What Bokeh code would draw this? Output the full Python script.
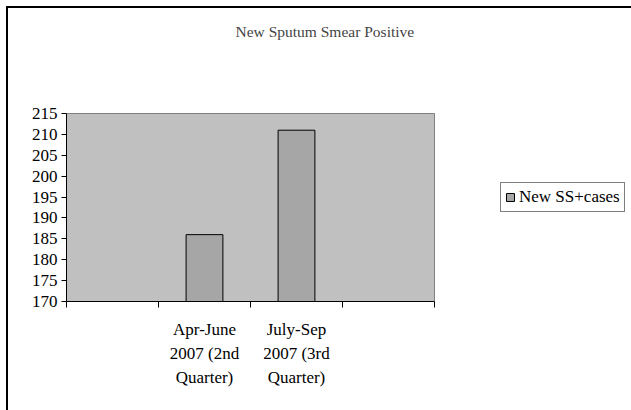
from bokeh.plotting import figure
from bokeh.models import Range1d, FixedTicker, Legend, LegendItem, LinearAxis
from bokeh.embed import file_html
from bokeh.resources import INLINE

title_text = "New Sputum Smear Positive"
categories = ["", "Apr-June\n2007 (2nd\nQuarter)", "July-Sep\n2007 (3rd\nQuarter)", ""]
values = [None, 186, 211, None]
series_name = "New SS+cases"
y_ticks = [170, 175, 180, 185, 190, 195, 200, 205, 210, 215]

FONT = "Liberation Serif"
FS = "17px"

n = len(categories)
xs = [i + 0.5 for i, v in enumerate(values) if v is not None]
tops = [v for v in values if v is not None]

# plot area is 368x188 px; the frame is widened to host the legend on the right
AREA_W, AREA_H = 368, 188
FRAME_W, FRAME_H = 561, 189
x_end = n * FRAME_W / AREA_W
y_end = y_ticks[-1] + (y_ticks[-1] - y_ticks[0]) * (FRAME_H - AREA_H) / AREA_H

p = figure(frame_width=FRAME_W, frame_height=FRAME_H, output_backend="svg",
           toolbar_location=None,
           x_range=Range1d(0, x_end), y_range=Range1d(y_ticks[0], y_end),
           min_border_left=58, min_border_right=4, min_border_top=104,
           min_border_bottom=109,
           styles={"margin-left": "6px", "margin-top": "6px",
                   "border-top": "2px solid black", "border-left": "2px solid black"})

p.title.text = title_text
p.title.text_font = FONT
p.title.text_font_size = "15.5px"
p.title.text_font_style = "normal"
p.title.align = "left"
p.title.vertical_align = "top"
p.title.offset = 169
p.title.standoff = 10

p.background_fill_color = "white"
p.border_fill_color = "white"
p.outline_line_color = None
p.xgrid.visible = False
p.ygrid.visible = False

# gray plot area spanning the category range and value axis range
p.quad(left=[0], right=[n], bottom=[y_ticks[0]], top=[y_ticks[-1]],
       fill_color="#C0C0C0", line_color="#808080", line_width=1)

r = p.vbar(x=xs, top=tops, bottom=y_ticks[0], width=0.4,
           fill_color="#A6A6A6", line_color="black", line_width=1)

xa = p.xaxis[0]
xa.bounds = (0, n)
xa.ticker = FixedTicker(ticks=[i + 0.5 for i in range(n)], minor_ticks=list(range(n + 1)))
xa.major_label_overrides = {i + 0.5: c for i, c in enumerate(categories)}
xa.major_tick_out = 0
xa.major_tick_in = 0
xa.minor_tick_out = 6
xa.minor_tick_in = 0
xa.minor_tick_line_color = "black"
xa.axis_line_color = "black"
xa.major_label_text_font = FONT
xa.major_label_text_font_size = FS
xa.major_label_text_color = "black"
xa.major_label_text_line_height = 1.27
xa.major_label_standoff = 12

ya = p.yaxis[0]
ya.bounds = (y_ticks[0], y_ticks[-1])
ya.ticker = FixedTicker(ticks=y_ticks)
ya.major_tick_out = 5
ya.major_tick_in = 0
ya.minor_tick_out = 0
ya.minor_tick_in = 0
ya.axis_line_color = "black"
ya.major_tick_line_color = "black"
ya.major_label_text_font = FONT
ya.major_label_text_font_size = FS
ya.major_label_text_color = "black"
ya.major_label_standoff = 4

# empty spacer between plot area and title
spacer = LinearAxis(ticker=FixedTicker(ticks=[n / 2], minor_ticks=[]),
                    major_label_overrides={n / 2: ""},
                    major_tick_out=66, major_tick_in=0,
                    minor_tick_out=0, minor_tick_in=0, major_label_standoff=0,
                    major_tick_line_color=None, minor_tick_line_color=None,
                    axis_line_color=None, major_label_text_font_size="1px")
p.add_layout(spacer, "above")

legend = Legend(items=[LegendItem(label=series_name, renderers=[r])],
                location=(434, 89), orientation="vertical",
                label_text_font=FONT, label_text_font_size=FS,
                label_text_color="black",
                glyph_width=10, glyph_height=10, label_standoff=4,
                padding=4, margin=0, spacing=0,
                border_line_color="black", border_line_width=1,
                background_fill_color="white", background_fill_alpha=1)
p.add_layout(legend, "center")

open("out.html", "w").write(file_html(p, INLINE))
